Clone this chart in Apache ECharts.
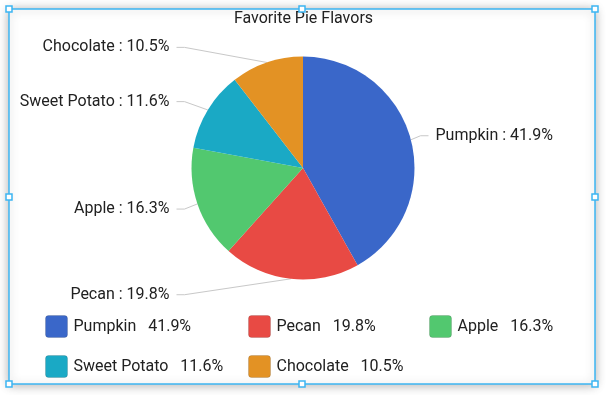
<!DOCTYPE html>
<html><head><meta charset="utf-8">
<script src="https://cdn.jsdelivr.net/npm/echarts@6/dist/echarts.min.js"></script>
<style>html,body{margin:0;padding:0;background:#fff}#c{width:607px;height:395px}</style>
</head><body><div id="c"></div>
<script>
const titleText = 'Favorite Pie Flavors';
const categories = ['Pumpkin', 'Pecan', 'Apple', 'Sweet Potato', 'Chocolate'];
const values = [41.9, 19.8, 16.3, 11.6, 10.5];
const colors = ['#3a67c9', '#e84a44', '#52c86f', '#1aa9c5', '#e39224'];
const legendColumns = [['Pumpkin', 'Sweet Potato'], ['Pecan', 'Chocolate'], ['Apple']];

const FONT = 'Roboto';
const TXT = '#212121';
const BLUE = '#3db5f2';
const colLeft = [45, 248, 429];
const CX = 303, CY = 168, R = 111.5;

function legendFmt(name) {
  const i = categories.indexOf(name);
  return name + '   ' + values[i].toFixed(1) + '%';
}

const legends = legendColumns.map((col, k) => ({
  data: col,
  orient: 'vertical',
  left: colLeft[k],
  top: 315,
  padding: 0,
  itemWidth: 22,
  itemHeight: 22,
  itemGap: 17,
  icon: 'path://M3,0H19Q22,0 22,3V19Q22,22 19,22H3Q0,22 0,19V3Q0,0 3,0Z',
  itemStyle: { borderColor: 'rgba(0,0,0,0.13)', borderWidth: 1 },
  selectedMode: false,
  formatter: legendFmt,
  textStyle: { fontFamily: FONT, fontSize: 16, color: TXT, padding: [0, 0, 0, 1] }
}));

const handles = [[9,9],[302,9],[595,9],[9,197],[595,197],[9,384],[302,384],[595,384]];

const option = {
  backgroundColor: '#fff',
  animation: false,
  title: {
    text: titleText, left: 'center', top: 11, padding: 0,
    textStyle: { fontFamily: FONT, fontSize: 16, fontWeight: 'normal', color: TXT }
  },
  legend: legends,
  graphic: [
    { type: 'rect', z: -10, silent: true,
      shape: { x: 9, y: 9, width: 586, height: 375 },
      style: { fill: '#fff', stroke: BLUE, lineWidth: 1.5, shadowBlur: 10, shadowColor: 'rgba(0,0,0,0.28)', shadowOffsetY: 1 } }
  ].concat(handles.map(h => ({
    type: 'rect', z: 100, silent: true,
    shape: { x: h[0] - 3, y: h[1] - 3, width: 6, height: 6 },
    style: { fill: '#fff', stroke: BLUE, lineWidth: 1.5 }
  }))),
  series: [{
    type: 'pie',
    center: [CX, CY],
    radius: R,
    startAngle: 90,
    clockwise: true,
    avoidLabelOverlap: true,
    emphasis: { disabled: true },
    data: categories.map((n, i) => ({ name: n, value: values[i], itemStyle: { color: colors[i] } })),
    itemStyle: { borderWidth: 0 },
    label: {
      show: true, position: 'outside',
      formatter: p => p.name + ' : ' + p.value.toFixed(1) + '%',
      fontFamily: FONT, fontSize: 16, color: TXT
    },
    labelLine: { show: true, length: 16, length2: 6, lineStyle: { color: '#c8c8c8', width: 1 } },
    labelLayout: function (p) {
      const pts = p.labelLinePoints;
      if (!pts || pts.length < 3) return {};
      const left = pts[0][0] < CX;
      const yLab = pts[2][1];
      const textX = left ? CX - R - 22 : CX + R + 21;
      const endX = left ? CX - R - 15 : CX + R + 14;
      const bendX = left ? endX + 8 : endX - 8;
      return {
        x: textX,
        y: yLab,
        align: left ? 'right' : 'left',
        verticalAlign: 'middle',
        labelLinePoints: [pts[0], [bendX, yLab], [endX, yLab]]
      };
    }
  }]
};

const chart = echarts.init(document.getElementById('c'), null, { renderer: 'canvas' });
chart.setOption(option);
</script>
</body></html>
